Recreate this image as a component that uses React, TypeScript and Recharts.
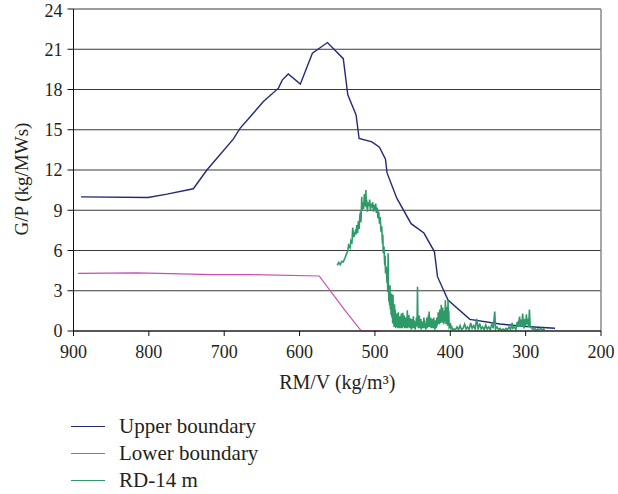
import React from 'react';
import {
  CartesianGrid,
  Line,
  LineChart,
  ReferenceLine,
  XAxis,
  YAxis,
} from 'recharts';

// x = RM/V (kg/m3), y = G/P (kg/MWs)
const upperX = [890, 801, 776, 741, 723, 688, 679, 648, 628, 623, 615, 599, 583, 563, 542, 536, 525, 521, 504, 494, 486, 484, 471, 452, 435, 421, 417, 403, 374, 334, 299, 261];
const upperY = [10.0, 9.95, 10.2, 10.6, 12.0, 14.3, 15.1, 17.1, 18.1, 18.7, 19.15, 18.4, 20.7, 21.5, 20.3, 17.6, 16.1, 14.35, 14.1, 13.7, 12.8, 11.8, 9.9, 8.0, 7.3, 5.9, 4.05, 2.3, 0.87, 0.52, 0.33, 0.2];

const lowerX = [894, 816, 715, 664, 574, 540, 518, 493];
const lowerY = [4.3, 4.33, 4.2, 4.2, 4.1, 1.56, 0, 0];

const rdX = [
  550, 548, 546, 544, 542, 540, 538, 536, 535, 533, 532, 530.5, 529.5, 528, 526, 525, 524, 523, 522, 521,
  520, 519, 518.5, 517.5, 517, 516, 515, 514, 513, 512, 511.5, 511, 510, 509, 508, 507, 506, 505, 504, 503,
  502, 501, 500, 499, 498, 497, 496, 495, 494, 493, 492, 491, 490, 489.5, 489, 488, 487, 486.5, 486, 485,
  484, 483.5, 483, 482.5, 482, 481.5, 481, 480.5, 480, 479.5, 479, 478.5, 478, 477.5, 477, 476.5, 476, 475.5, 475, 474.5,
  474, 473.5, 473, 472.5, 472, 471.5, 471, 470.5, 470, 469.5, 469, 468.5, 468, 467.5, 467, 466.5, 466, 465.5, 465, 464.5,
  464, 463.5, 463, 462.5, 462, 461.5, 461, 460.5, 460, 459.5, 459, 458.5, 458, 457.5, 457, 456.5, 456, 455.5, 455, 454.5,
  454, 453.5, 453, 452.5, 452, 451.5, 451, 450.5, 450, 449.5, 449, 448.5, 448, 447.5, 447, 446.5, 446, 445.5, 445, 444.5,
  444, 443.5, 443, 442.5, 442, 441.5, 441, 440.5, 440, 439.5, 439, 438.5, 438, 437.5, 437, 436.5, 436, 435.5, 435, 434.5,
  434, 433.5, 433, 432.5, 432, 431.5, 431, 430.5, 430, 429.5, 429, 428.5, 428, 427.5, 427, 426.5, 426, 425.5, 425, 424.5,
  424, 423.5, 423, 422.5, 422, 421.5, 421, 420.5, 420, 419.5, 419, 418.5, 418, 417.5, 417, 416.5, 416, 415.5, 415, 414.5,
  414, 413.5, 413, 412.5, 412, 411.5, 411, 410.5, 410, 409.5, 409, 408.5, 408, 407.5, 407, 406.5, 406, 405.5, 405, 404.5,
  404, 403.5, 403, 402.5, 402, 401.5, 401, 400.5, 400, 399, 398, 397, 395, 393, 391, 389, 387, 385, 383,
  381, 379, 377, 375, 373, 371, 369, 367, 365, 363, 361, 359, 357, 355, 353, 351, 349, 347, 345, 343,
  341, 340, 338, 336, 334, 332, 330, 328, 326, 324, 322, 320, 318, 317, 315, 313, 311, 310, 308, 307,
  306, 305, 304, 303, 302, 301, 300, 299, 298, 297, 296, 295, 294, 292, 290, 288, 286, 284, 282, 280,
  278, 276, 275,
];
const rdY = [
  4.9, 5.1, 4.95, 5.2, 5.15, 5.4, 5.7, 6.0, 6.4, 6.2, 6.7, 6.5, 7.7, 7.0, 7.4, 7.2, 7.9, 7.3, 8.2, 7.6,
  8.6, 8.9, 8.1, 10.0, 9.0, 9.6, 9.1, 10.2, 9.3, 10.5, 9.2, 9.8, 8.9, 9.6, 9.3, 9.8, 9.0, 9.5, 9.2, 9.6,
  8.9, 9.4, 9.0, 9.5, 8.8, 9.2, 8.4, 8.9, 8.0, 8.5, 7.4, 7.8, 6.5, 7.2, 5.8, 6.3, 4.9, 5.6, 4.3, 4.8,
  3.6, 4.2, 2.9, 5.8, 3.2, 2.2, 3.0, 1.9, 3.4, 1.6, 2.6, 1.2, 2.8, 1.0, 2.2, 0.6, 2.7, 0.5, 1.9, 0.3,
  2.0, 0.4, 1.6, 0.2, 1.2, 0.3, 1.3, 0.5, 0.9, 0.2, 1.4, 0.3, 0.8, 0.2, 1.1, 0.4, 1.0, 0.2, 1.3, 0.3,
  0.9, 0.2, 1.35, 0.4, 1.0, 0.3, 1.15, 0.2, 0.8, 0.4, 1.0, 0.2, 0.7, 0.3, 1.55, 0.2, 0.9, 0.3, 1.2, 0.4,
  0.9, 0.2, 0.95, 0.3, 0.6, 0.1, 0.9, 0.3, 0.7, 0.2, 1.1, 0.3, 0.8, 0.2, 0.7, 0.1, 0.6, 0.3, 1.0, 0.4,
  0.8, 3.3, 0.6, 0.2, 0.7, 0.3, 1.15, 0.2, 0.6, 0.3, 0.9, 0.1, 0.5, 0.2, 0.7, 0.3, 0.6, 0.2, 1.0, 0.3,
  0.8, 0.2, 0.6, 0.1, 0.5, 0.3, 1.0, 0.2, 0.7, 0.4, 1.2, 0.3, 1.45, 0.5, 0.8, 0.3, 1.0, 0.2, 0.6, 0.3,
  0.9, 0.2, 0.7, 0.3, 1.0, 0.2, 0.5, 0.1, 0.8, 0.3, 0.6, 0.2, 1.0, 0.4, 0.9, 0.5, 1.4, 0.6, 1.1, 0.5,
  1.6, 0.7, 1.2, 0.6, 1.95, 0.8, 1.3, 0.7, 1.75, 0.6, 1.2, 0.5, 1.5, 0.7, 1.0, 2.3, 0.9, 0.5, 1.8, 0.6,
  1.0, 0.4, 2.3, 0.8, 1.5, 0.3, 0.35, 0.2, 0.6, 0.2, 0.3, 0.1, 0.15, 0.1, 0.3, 0.1, 0.4, 0.1, 0.2,
  0.5, 0.15, 0.3, 0.1, 0.6, 0.2, 0.4, 0.15, 0.9, 0.1, 0.57, 0.15, 0.3, 0.1, 0.45, 0.15, 0.3, 0.1, 0.5, 0.2,
  1.45, 0.15, 0.3, 0.1, 0.2, 0.05, 0.15, 0.05, 0.2, 0.1, 0.3, 0.1, 0.6, 0.2, 0.3, 0.1, 0.7, 0.3, 1.07, 0.4,
  0.85, 0.3, 1.3, 0.6, 0.2, 0.9, 0.4, 1.25, 0.5, 0.9, 0.3, 1.6, 0.35, 0.2, 0.1, 0.2, 0.05, 0.15, 0.1, 0.2,
  0.1, 0.15, 0.05,
];

const xTicks = [900, 800, 700, 600, 500, 400, 300, 200];
const yTicks = [0, 3, 6, 9, 12, 15, 18, 21, 24];

const zip = (xs: number[], ys: number[]) => xs.map((x, i) => ({ x, y: ys[i] }));

const series = [
  { name: 'Upper boundary', color: '#222a78', width: 1.4, data: zip(upperX, upperY) },
  { name: 'Lower boundary', color: '#c94db3', width: 1.2, data: zip(lowerX, lowerY) },
  { name: 'RD-14 m', color: '#2e9a68', width: 1.6, data: zip(rdX, rdY) },
];

const font = '"Liberation Serif", "DejaVu Serif", serif';
const tickStyle = { fill: '#231f20', fontSize: 18, fontFamily: font };

const YLabel = () => (
  <text
    x={21}
    y={179}
    transform="rotate(-90, 21, 179)"
    textAnchor="middle"
    dominantBaseline="central"
    fill="#231f20"
    fontSize={19}
    fontFamily={font}
  >
    G/P (kg/MWs)
  </text>
);

export default function App() {
  return (
    <div style={{ position: 'absolute', left: 0, top: 0, width: 618, height: 494, background: '#fff' }}>
      <LineChart width={618} height={400} margin={{ top: 9, right: 17, left: 0, bottom: 0 }}>
        <CartesianGrid vertical={false} stroke="#3a3a3a" strokeWidth={1} />
        <XAxis
          type="number"
          dataKey="x"
          domain={[200, 900]}
          ticks={xTicks}
          reversed
          allowDataOverflow
          height={69}
          tickSize={5}
          tickMargin={9}
          tick={tickStyle}
          axisLine={{ stroke: '#111' }}
          tickLine={{ stroke: '#111' }}
          label={{
            value: 'RM/V (kg/m³)',
            position: 'insideBottom',
            offset: 11,
            style: { fill: '#231f20', fontSize: 20, fontFamily: font },
          }}
        />
        <YAxis
          type="number"
          dataKey="y"
          domain={[0, 24]}
          ticks={yTicks}
          width={73.5}
          tickSize={6}
          tickMargin={5}
          tick={tickStyle}
          axisLine={{ stroke: '#111' }}
          tickLine={{ stroke: '#111' }}
          label={{ content: () => <YLabel /> }}
        />
        <ReferenceLine x={200} stroke="#8a8a8a" strokeWidth={1.5} />
        {series.map((s) => (
          <Line
            key={s.name}
            data={s.data}
            dataKey="y"
            name={s.name}
            type="linear"
            stroke={s.color}
            strokeWidth={s.width}
            dot={false}
            activeDot={false}
            isAnimationActive={false}
          />
        ))}
      </LineChart>
      <div style={{ position: 'absolute', left: 71, top: 413, fontFamily: font, fontSize: 21, color: '#231f20' }}>
        {series.map((s) => (
          <div key={s.name} style={{ display: 'flex', alignItems: 'center', height: 27 }}>
            <span style={{ display: 'inline-block', width: 34, height: 0, borderTop: `1.5px solid ${s.color}`, marginRight: 14 }} />
            <span>{s.name}</span>
          </div>
        ))}
      </div>
    </div>
  );
}
